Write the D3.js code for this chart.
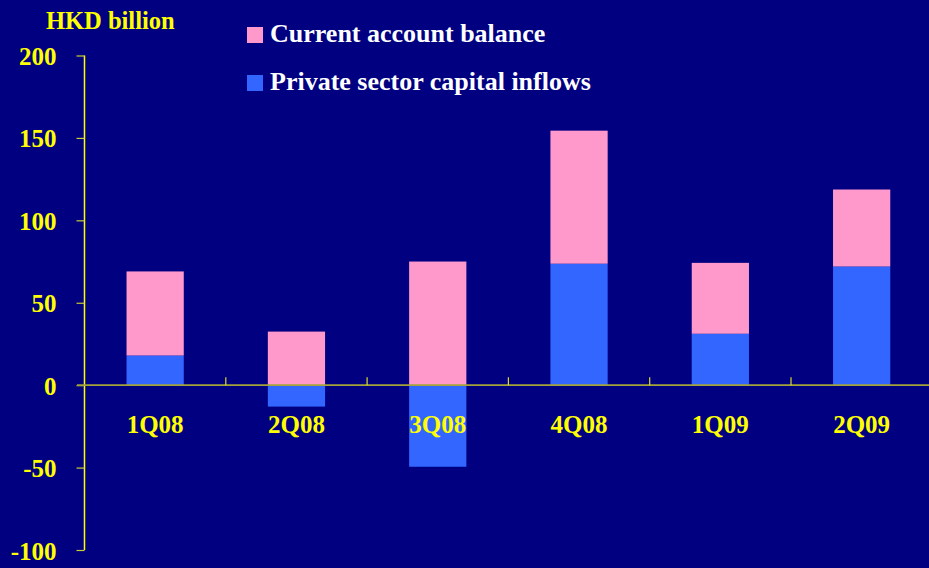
<!DOCTYPE html>
<html>
<head>
<meta charset="utf-8">
<script src="https://cdn.jsdelivr.net/npm/d3@7"></script>
<style>
  html, body { margin: 0; padding: 0; background: #000080; }
  svg { display: block; }
</style>
</head>
<body>
<svg id="chart" width="929" height="568"></svg>
<script>
// quarters
const quarters = ["1Q08", "2Q08", "3Q08", "4Q08", "1Q09", "2Q09"];
// Current account balance (pink)
const currentAccount = [51, 32.5, 75, 80.7, 43, 46.7];
// Private sector capital inflows (blue)
const privateInflows = [18, -13, -49.5, 73.7, 31.2, 72];
// y ticks
const yTicks = [-100, -50, 0, 50, 100, 150, 200];

const seriesKeys = ["private", "current"];
const seriesNames = { current: "Current account balance", private: "Private sector capital inflows" };
const seriesColors = { current: "#FF99CC", private: "#3366FF" };

const rows = quarters.map((q, i) => ({ q: q, private: privateInflows[i], current: currentAccount[i] }));

const svg = d3.select("#chart");
const fontFamily = "'Liberation Serif', 'Times New Roman', serif";

svg.append("rect")
    .attr("width", 929)
    .attr("height", 568)
    .attr("fill", "#000080");

// scales
const xScale = d3.scaleBand()
    .domain(quarters)
    .range([84.5, 84.5 + 6 * 141.3])
    .padding(0);

const yScale = d3.scaleLinear()
    .domain([-100, 200])
    .range([550, 55.5]);

const barWidth = xScale.bandwidth() * 0.405;

// stacked, negative values go below zero
const stacked = d3.stack()
    .keys(seriesKeys)
    .offset(d3.stackOffsetDiverging)(rows);

svg.append("g")
    .selectAll("g")
    .data(stacked)
    .enter()
    .append("g")
    .attr("fill", d => seriesColors[d.key])
    .selectAll("rect")
    .data(d => d)
    .enter()
    .append("rect")
    .attr("x", d => xScale(d.data.q) + (xScale.bandwidth() - barWidth) / 2)
    .attr("y", d => yScale(Math.max(d[0], d[1])))
    .attr("width", barWidth)
    .attr("height", d => Math.abs(yScale(d[0]) - yScale(d[1])));

// y axis (plain hyphen for negatives, like the original)
const yAxis = d3.axisLeft(yScale)
    .tickValues(yTicks)
    .tickSize(8)
    .tickPadding(20)
    .tickFormat(d => String(d));

const yAxisG = svg.append("g")
    .attr("transform", "translate(84.5, 0)")
    .call(yAxis);
yAxisG.select(".domain")
    .attr("stroke", "#FFFF00")
    .attr("stroke-width", 1.5)
    .attr("d", `M0,${yScale(200)}V${yScale(-100)}`);
yAxisG.selectAll(".tick line")
    .attr("stroke", "#CCCC33")
    .attr("stroke-width", 1.2);
yAxisG.selectAll("text")
    .attr("fill", "#FFFF00")
    .attr("dy", "0.36em")
    .style("font-family", fontFamily)
    .style("font-size", "25px")
    .style("font-weight", "bold");

// x axis on zero line, ticks between categories pointing up
const zeroY = yScale(0);
const xAxisG = svg.append("g");
xAxisG.append("line")
    .attr("x1", 77)
    .attr("x2", 929)
    .attr("y1", zeroY)
    .attr("y2", zeroY)
    .attr("stroke", "#A3A33A")
    .attr("stroke-width", 1.6);
xAxisG.selectAll(".xtick")
    .data(quarters.slice(1))
    .enter()
    .append("line")
    .attr("class", "xtick")
    .attr("x1", d => xScale(d))
    .attr("x2", d => xScale(d))
    .attr("y1", zeroY)
    .attr("y2", zeroY - 8)
    .attr("stroke", "#DDDD22")
    .attr("stroke-width", 1.2);
xAxisG.selectAll(".xlabel")
    .data(quarters)
    .enter()
    .append("text")
    .attr("class", "xlabel")
    .attr("x", d => xScale(d) + xScale.bandwidth() / 2)
    .attr("y", 433)
    .attr("text-anchor", "middle")
    .attr("fill", "#FFFF00")
    .style("font-family", fontFamily)
    .style("font-size", "25px")
    .style("font-weight", "bold")
    .text(d => d);

// unit label
svg.append("text")
    .attr("x", 46)
    .attr("y", 29)
    .attr("fill", "#FFFF00")
    .style("font-family", fontFamily)
    .style("font-size", "24.5px")
    .style("font-weight", "bold")
    .text("HKD billion");

// legend
const legendKeys = ["current", "private"];
const legend = svg.append("g")
    .selectAll("g")
    .data(legendKeys)
    .enter()
    .append("g")
    .attr("transform", (d, i) => `translate(247, ${27 + i * 48})`);
legend.append("rect")
    .attr("width", 16)
    .attr("height", 16)
    .attr("fill", d => seriesColors[d]);
legend.append("text")
    .attr("x", 23)
    .attr("y", 15)
    .attr("fill", "#FFFFFF")
    .style("font-family", fontFamily)
    .style("font-size", "26px")
    .style("font-weight", "bold")
    .text(d => seriesNames[d]);
</script>
</body>
</html>
